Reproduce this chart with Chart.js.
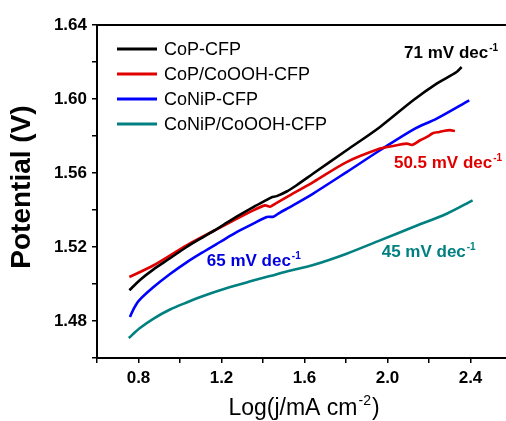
<!DOCTYPE html>
<html>
<head>
<meta charset="utf-8">
<script src="https://cdn.jsdelivr.net/npm/chart.js@4.4.0/dist/chart.umd.min.js"></script>
<style>
    html, body { margin: 0; padding: 0; background: #fff; overflow: hidden; }
    #wrap { width: 520px; height: 421px; }
</style>
</head>
<body>
<div id="wrap"><canvas id="tafelChart" width="520" height="421"></canvas></div>
<script>
// Series names
var seriesNames = ['CoP-CFP', 'CoP/CoOOH-CFP', 'CoNiP-CFP', 'CoNiP/CoOOH-CFP'];
var seriesColors = ['#000000', '#e00000', '#0000ff', '#008080'];

// CoP-CFP
var copX = [0.756, 0.807, 0.871, 0.952, 1.032, 1.112, 1.193, 1.273, 1.353, 1.418, 1.44, 1.466, 1.514, 1.562, 1.642, 1.803, 1.964, 2.124, 2.237, 2.333, 2.357];
var copY = [1.4966, 1.5022, 1.5078, 1.5139, 1.5200, 1.5254, 1.5308, 1.5364, 1.5416, 1.5455, 1.5468, 1.5475, 1.5500, 1.5534, 1.5597, 1.5723, 1.5849, 1.5993, 1.6083, 1.6146, 1.6173];

// CoP/CoOOH-CFP
var copOohX = [0.756, 0.871, 1.032, 1.193, 1.353, 1.41, 1.434, 1.46, 1.514, 1.642, 1.803, 1.964, 2.02, 2.093, 2.12, 2.157, 2.19, 2.221, 2.25, 2.269, 2.30, 2.325];
var copOohY = [1.5038, 1.510, 1.5209, 1.5305, 1.5398, 1.5425, 1.5418, 1.5435, 1.547, 1.5551, 1.5659, 1.5732, 1.5745, 1.5759, 1.5752, 1.5777, 1.5795, 1.5816, 1.5822, 1.5827, 1.5832, 1.5827];

// CoNiP-CFP
var conipX = [0.759, 0.775, 0.80, 0.871, 0.952, 1.032, 1.112, 1.193, 1.273, 1.353, 1.418, 1.45, 1.48, 1.53, 1.642, 1.803, 1.964, 2.124, 2.237, 2.394];
var conipY = [1.4822, 1.4862, 1.4908, 1.4982, 1.5054, 1.5117, 1.5173, 1.5227, 1.5280, 1.5326, 1.5362, 1.5364, 1.5385, 1.5416, 1.5489, 1.5605, 1.5723, 1.5835, 1.5894, 1.5993];

// CoNiP/CoOOH-CFP
var conipOohX = [0.753, 0.807, 0.871, 0.952, 1.032, 1.112, 1.193, 1.273, 1.353, 1.434, 1.514, 1.642, 1.803, 1.964, 2.124, 2.285, 2.41];
var conipOohY = [1.4708, 1.4762, 1.4812, 1.4862, 1.4900, 1.4935, 1.4966, 1.4993, 1.5019, 1.5043, 1.5068, 1.5103, 1.5164, 1.5236, 1.5308, 1.5380, 1.5452];

// Axis ticks
var xTickLabels = [0.8, 1.2, 1.6, 2.0, 2.4];
var yTickLabels = [1.48, 1.52, 1.56, 1.60, 1.64];

// Tafel slope labels
var slopeLabels = [
    { text: '71 mV dec', x: 2.08, y: 1.622, color: '#000000' },
    { text: '50.5 mV dec', x: 2.031, y: 1.5625, color: '#e00000' },
    { text: '65 mV dec', x: 1.129, y: 1.510, color: '#0000e0' },
    { text: '45 mV dec', x: 1.972, y: 1.5146, color: '#008080' }
];

var FONT = 'Arial, "Liberation Sans", sans-serif';

function pairs(xs, ys) {
    return xs.map(function (x, i) { return { x: x, y: ys[i] }; });
}

var allX = [copX, copOohX, conipX, conipOohX];
var allY = [copY, copOohY, conipY, conipOohY];

var datasets = seriesNames.map(function (name, i) {
    return {
        label: name,
        data: pairs(allX[i], allY[i]),
        borderColor: seriesColors[i],
        backgroundColor: seriesColors[i],
        borderWidth: 2.6,
        pointRadius: 0,
        showLine: true,
        tension: 0.3
    };
});

// Draws frame, legend, titles and slope labels
var decorPlugin = {
    id: 'decor',
    afterDraw: function (chart) {
        var ctx = chart.ctx;
        var area = chart.chartArea;
        var xs = chart.scales.x;
        var ys = chart.scales.y;

        ctx.save();
        ctx.strokeStyle = '#000';
        ctx.lineWidth = 2;
        ctx.beginPath();
        ctx.moveTo(area.left, area.top);
        ctx.lineTo(area.right, area.top);
        ctx.lineTo(area.right, area.bottom);
        ctx.stroke();

        // Legend
        ctx.font = '18px ' + FONT;
        ctx.textBaseline = 'middle';
        ctx.textAlign = 'left';
        seriesNames.forEach(function (name, i) {
            var yy = 49 + i * 25;
            ctx.strokeStyle = seriesColors[i];
            ctx.lineWidth = 3;
            ctx.beginPath();
            ctx.moveTo(117, yy);
            ctx.lineTo(157, yy);
            ctx.stroke();
            ctx.fillStyle = '#000';
            ctx.fillText(name, 164, yy + 1);
        });

        // Slope labels with superscript -1
        ctx.textBaseline = 'alphabetic';
        slopeLabels.forEach(function (lab) {
            var px = xs.getPixelForValue(lab.x);
            var py = ys.getPixelForValue(lab.y);
            ctx.fillStyle = lab.color;
            ctx.font = 'bold 17px ' + FONT;
            ctx.fillText(lab.text, px, py);
            var w = ctx.measureText(lab.text).width;
            ctx.font = 'bold 10px ' + FONT;
            ctx.fillText('-1', px + w + 1, py - 7);
        });

        // Y title
        ctx.fillStyle = '#000';
        ctx.font = 'bold 28px ' + FONT;
        ctx.translate(22, 187);
        ctx.rotate(-Math.PI / 2);
        ctx.textAlign = 'center';
        ctx.textBaseline = 'middle';
        ctx.fillText('Potential (V)', 0, 0);
        ctx.setTransform(1, 0, 0, 1, 0, 0);

        // X title with superscript
        ctx.textAlign = 'left';
        ctx.textBaseline = 'alphabetic';
        var main = 'Log(j/mA cm';
        ctx.font = '23px ' + FONT;
        var w1 = ctx.measureText(main).width;
        var w3 = ctx.measureText(')').width;
        ctx.font = '14px ' + FONT;
        var w2 = ctx.measureText('-2').width;
        var x0 = 304 - (w1 + w2 + w3 + 2) / 2;
        var base = 415;
        ctx.font = '23px ' + FONT;
        ctx.fillText(main, x0, base);
        ctx.font = '14px ' + FONT;
        ctx.fillText('-2', x0 + w1 + 1, base - 10);
        ctx.font = '23px ' + FONT;
        ctx.fillText(')', x0 + w1 + w2 + 2, base);
        ctx.restore();
    }
};

var ctx = document.getElementById('tafelChart').getContext('2d');
var tafelChart = new Chart(ctx, {
    type: 'scatter',
    data: { datasets: datasets },
    options: {
        responsive: false,
        animation: false,
        devicePixelRatio: 1,
        layout: { padding: { left: 0, right: 8, top: 25, bottom: 0 } },
        plugins: {
            legend: { display: false },
            tooltip: { enabled: false }
        },
        scales: {
            x: {
                type: 'linear',
                min: 0.6,
                max: 2.6,
                afterFit: function (s) { s.height = 63; },
                ticks: {
                    stepSize: 0.2,
                    autoSkip: false,
                    maxRotation: 0,
                    padding: 5,
                    color: '#000',
                    font: { family: FONT, size: 17, weight: 'bold' },
                    callback: function (v) {
                        var hit = xTickLabels.some(function (t) { return Math.abs(t - v) < 1e-6; });
                        return hit ? v.toFixed(1) : '';
                    }
                },
                grid: { drawOnChartArea: false, drawTicks: true, tickLength: 5, color: '#000', lineWidth: 1.5 },
                border: { color: '#000', width: 2 }
            },
            y: {
                type: 'linear',
                min: 1.46,
                max: 1.64,
                afterFit: function (s) { s.width = 97; },
                ticks: {
                    stepSize: 0.02,
                    autoSkip: false,
                    padding: 5,
                    color: '#000',
                    font: { family: FONT, size: 17, weight: 'bold' },
                    callback: function (v) {
                        var hit = yTickLabels.some(function (t) { return Math.abs(t - v) < 1e-6; });
                        return hit ? v.toFixed(2) : '';
                    }
                },
                grid: { drawOnChartArea: false, drawTicks: true, tickLength: 5, color: '#000', lineWidth: 1.5 },
                border: { color: '#000', width: 2 }
            }
        }
    },
    plugins: [decorPlugin]
});
</script>
</body>
</html>
